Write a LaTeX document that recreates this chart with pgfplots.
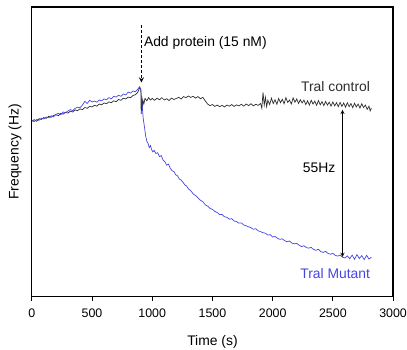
\documentclass[border=0pt]{standalone}
\usepackage{fontspec}
\setmainfont{Liberation Sans}
\usepackage{pgfplots}
\pgfplotsset{compat=1.18}
\definecolor{mutblue}{RGB}{70,70,225}
\definecolor{ctrlgray}{RGB}{45,45,45}
\begin{document}
\begin{tikzpicture}
\useasboundingbox (-32bp,-53bp) rectangle (377bp,298bp);
\begin{axis}[
  at={(0,0)}, anchor=south west,
  scale only axis, width=363bp, height=291bp,
  xmin=0, xmax=3000, ymin=0, ymax=108.9,
  xtick={0,500,...,3000}, ytick=\empty,
  tick align=outside, xtick pos=bottom, major tick length=4bp,
  axis line style={line width=1.2bp}, every tick/.style={line width=1bp, black},
  /pgf/number format/assume math mode=true,
  /pgf/number format/1000 sep={},
  tick label style={font=\fontsize{12.5}{15}\selectfont},
  xticklabel style={yshift=-5bp},
  label style={font=\fontsize{14}{16}\selectfont},
  xlabel={Time (s)}, ylabel={Frequency (Hz)},
  xlabel style={at={(axis description cs:0.5,0)}, anchor=center, yshift=-46bp},
  ylabel style={at={(axis description cs:0,0.5)}, anchor=center, yshift=17bp},
  clip=false,
]
\addplot[ctrlgray, line width=0.7bp] coordinates {
(0,66.0)(20,66.5)(40,65.9)(60,66.9)(80,66.6)(100,67.3)(120,67.0)(140,67.8)(160,67.4)(180,68.1)
(200,68.4)(220,68.0)(240,68.9)(260,68.6)(280,69.3)(300,69.0)(320,69.7)(340,69.4)(360,70.2)(380,69.9)
(400,70.6)(420,70.3)(440,71.1)(460,70.8)(480,71.5)(500,71.3)(520,71.9)(540,71.6)(560,72.4)(580,72.1)
(600,72.8)(620,72.5)(640,73.2)(660,72.9)(680,73.6)(700,73.3)(720,74.1)(740,73.8)(760,74.6)(780,74.3)
(800,75.0)(820,74.8)(840,75.6)(860,75.9)(880,76.8)(895,78.6)(905,77.8)(908,68.6)(912,75.5)(916,69.8)
(922,73.8)(930,72.4)(940,74.5)(955,73.6)(970,74.8)(985,73.9)(1000,74.5)(1020,73.8)(1040,74.6)(1060,74.0)
(1080,74.8)(1100,73.9)(1120,74.4)(1140,73.7)(1160,74.6)(1180,74.1)(1200,74.5)(1220,74.9)(1240,74.3)(1260,75.2)
(1280,74.8)(1300,75.4)(1320,74.9)(1340,75.3)(1360,74.6)(1380,75.2)(1400,74.4)(1420,74.9)(1440,73.6)(1460,72.4)
(1480,71.8)(1500,72.2)(1520,71.5)(1540,72.0)(1560,71.4)(1580,71.9)(1600,71.3)(1620,72.0)(1640,71.6)(1660,72.2)
(1680,71.5)(1700,72.1)(1720,71.7)(1740,72.3)(1760,71.6)(1780,72.4)(1800,71.8)(1820,72.5)(1840,71.7)(1860,72.3)
(1880,71.9)(1900,72.6)(1910,70.8)(1920,76.8)(1930,72.0)(1940,74.9)(1950,71.4)(1960,73.8)(1975,72.2)(1990,74.6)
(2005,72.6)(2020,74.0)(2035,72.3)(2050,74.5)(2065,72.9)(2080,74.2)(2095,72.5)(2110,74.8)(2125,73.0)(2140,73.9)
(2155,72.4)(2170,74.7)(2185,73.1)(2200,74.3)(2215,72.6)(2230,74.0)(2245,72.8)(2260,73.9)(2275,72.2)(2290,73.6)
(2305,72.0)(2320,73.8)(2335,72.4)(2350,73.5)(2365,71.9)(2380,73.7)(2395,72.1)(2410,73.3)(2425,71.8)(2440,73.4)
(2455,72.0)(2470,73.1)(2485,71.6)(2500,73.2)(2515,71.7)(2530,72.9)(2545,71.4)(2560,73.0)(2575,71.5)(2590,72.8)
(2605,71.2)(2620,72.9)(2635,71.4)(2650,72.6)(2665,71.0)(2680,72.7)(2695,71.3)(2710,72.4)(2725,70.9)(2740,72.5)
(2755,71.1)(2770,72.0)(2785,70.4)(2800,71.6)(2810,69.8)(2820,70.9)
};
\addplot[mutblue, line width=0.7bp] coordinates {
(0,66.1)(20,65.8)(40,66.6)(60,66.3)(80,67.1)(100,66.8)(120,67.5)(140,67.2)(160,68.0)(180,67.6)
(200,68.5)(220,68.9)(240,68.4)(260,69.4)(280,69.1)(300,69.8)(320,70.3)(340,69.9)(360,70.8)(380,71.2)
(400,71.0)(420,72.0)(440,73.4)(460,72.6)(480,73.8)(500,73.2)(520,73.5)(540,73.1)(560,73.9)(580,73.6)
(600,74.3)(620,74.0)(640,74.8)(660,74.4)(680,75.3)(700,75.0)(720,75.7)(740,75.3)(760,76.2)(780,75.8)
(800,76.9)(820,76.5)(840,77.3)(860,77.0)(880,78.0)(895,78.9)(905,78.0)(915,72.5)(925,67.0)(935,63.8)
(945,60.5)(955,58.4)(965,57.6)(975,56.0)(985,56.8)(995,55.2)(1005,54.4)(1015,55.0)(1030,53.8)(1045,54.1)
(1060,52.6)(1075,53.0)(1090,51.3)(1105,50.7)(1120,49.4)(1135,49.8)(1150,48.2)(1165,47.3)(1180,47.0)(1195,45.8)
(1210,45.4)(1225,44.2)(1240,43.8)(1255,43.0)(1270,42.0)(1285,41.6)(1300,40.5)(1320,39.8)(1340,38.6)(1360,38.0)
(1380,37.1)(1400,36.2)(1420,35.7)(1440,34.5)(1460,34.0)(1480,33.1)(1500,32.8)(1520,32.0)(1540,31.6)(1560,30.8)
(1580,30.9)(1600,30.0)(1620,29.8)(1640,29.1)(1660,29.3)(1680,28.4)(1700,28.2)(1720,27.6)(1740,27.7)(1760,26.9)
(1780,26.6)(1800,26.2)(1820,25.9)(1840,25.3)(1860,25.5)(1880,24.7)(1900,24.4)(1920,24.0)(1940,23.8)(1960,23.1)
(1980,23.3)(2000,22.4)(2020,22.6)(2040,21.9)(2060,21.5)(2080,21.7)(2100,21.0)(2120,20.6)(2140,20.9)(2160,20.1)
(2180,19.8)(2200,20.0)(2220,19.3)(2240,18.8)(2260,19.1)(2280,18.4)(2300,18.2)(2320,18.5)(2340,17.7)(2360,17.4)
(2380,17.8)(2400,16.9)(2420,16.6)(2440,17.0)(2460,16.2)(2480,15.9)(2500,16.3)(2520,15.5)(2540,15.2)(2560,15.6)
(2580,14.8)(2600,14.5)(2620,15.3)(2640,14.2)(2660,15.6)(2680,14.0)(2700,15.8)(2720,14.3)(2740,15.4)(2760,13.9)
(2780,15.5)(2800,14.1)(2820,14.8)
};
\draw[-stealth, line width=1.3bp, dash pattern=on 3bp off 2bp] (axis cs:910,102) -- (axis cs:910,80.5);
\node[anchor=west, font=\fontsize{14}{16}\selectfont, inner sep=0pt] at (axis cs:930,95.5) {Add protein (15 nM)};
\draw[stealth-stealth, line width=0.9bp] (axis cs:2580,70.2) -- (axis cs:2580,14.9);
\node[anchor=center, font=\fontsize{14}{16}\selectfont] at (axis cs:2385,48.6) {55Hz};
\node[anchor=east, font=\fontsize{14}{16}\selectfont, inner sep=0pt, text=ctrlgray] at (axis cs:2810,78.8) {Tral control};
\node[anchor=east, font=\fontsize{14}{16}\selectfont, inner sep=0pt, text=mutblue] at (axis cs:2810,8.6) {Tral Mutant};
\end{axis}
\end{tikzpicture}
\end{document}
